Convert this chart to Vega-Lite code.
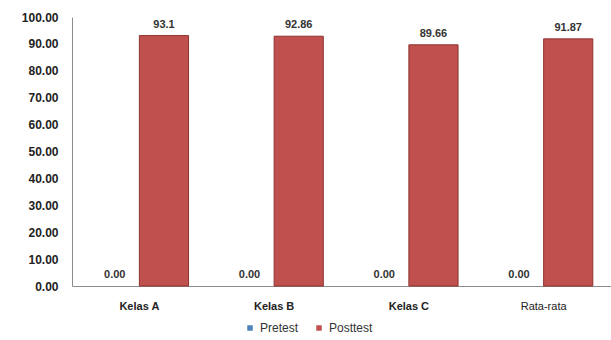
{
  "$schema": "https://vega.github.io/schema/vega-lite/v6.json",
  "autosize": {"type": "none"},
  "width": 539,
  "height": 269,
  "padding": {"left": 72, "top": 17, "right": 0, "bottom": 54},
  "background": "white",
  "config": {
    "view": {"stroke": null},
    "font": "Liberation Sans"
  },
  "data": {
    "values": [
      {"kelas": "Kelas A", "tes": "Pretest", "nilai": 0, "label": "0.00"},
      {"kelas": "Kelas A", "tes": "Posttest", "nilai": 93.1, "label": "93.1"},
      {"kelas": "Kelas B", "tes": "Pretest", "nilai": 0, "label": "0.00"},
      {"kelas": "Kelas B", "tes": "Posttest", "nilai": 92.86, "label": "92.86"},
      {"kelas": "Kelas C", "tes": "Pretest", "nilai": 0, "label": "0.00"},
      {"kelas": "Kelas C", "tes": "Posttest", "nilai": 89.66, "label": "89.66"},
      {"kelas": "Rata-rata", "tes": "Pretest", "nilai": 0, "label": "0.00"},
      {"kelas": "Rata-rata", "tes": "Posttest", "nilai": 91.87, "label": "91.87"}
    ]
  },
  "encoding": {
    "x": {
      "field": "kelas",
      "type": "nominal",
      "sort": null,
      "title": null,
      "scale": {"paddingInner": 0.27, "paddingOuter": 0.135},
      "axis": {
        "labelAngle": 0,
        "ticks": false,
        "labelPadding": 14,
        "labelFontSize": 11,
        "labelColor": "#222",
        "labelFontWeight": {"condition": {"test": "datum.value == 'Rata-rata'", "value": "normal"}, "value": "bold"},
        "domainColor": "#8c8c8c"
      }
    },
    "xOffset": {"field": "tes", "type": "nominal", "sort": ["Pretest", "Posttest"]},
    "y": {
      "field": "nilai",
      "type": "quantitative",
      "title": null,
      "scale": {"domain": [0, 100]},
      "axis": {
        "values": [0, 10, 20, 30, 40, 50, 60, 70, 80, 90, 100],
        "format": ".2f",
        "grid": false,
        "ticks": false,
        "labelPadding": 14,
        "labelFontSize": 12,
        "labelColor": "#222",
        "labelFontWeight": "bold",
        "domainColor": "#8c8c8c"
      }
    }
  },
  "layer": [
    {
      "mark": {"type": "bar", "stroke": "#8e3330"},
      "encoding": {
        "color": {
          "field": "tes",
          "type": "nominal",
          "sort": ["Pretest", "Posttest"],
          "scale": {"domain": ["Pretest", "Posttest"], "range": ["#4f81bd", "#c0504d"]},
          "legend": {
            "title": null,
            "orient": "none",
            "direction": "horizontal",
            "legendX": 172,
            "legendY": 305,
            "symbolType": "square",
            "symbolSize": 30,
            "symbolStrokeWidth": 0,
            "labelFontSize": 12,
            "labelColor": "#333",
            "columnPadding": 14
          }
        },
        "strokeWidth": {"condition": {"test": "datum.nilai == 0", "value": 0}, "value": 1}
      }
    },
    {
      "mark": {"type": "text", "baseline": "bottom", "dy": -6, "fontSize": 11, "fontWeight": "bold", "color": "#333"},
      "encoding": {"text": {"field": "label"}}
    }
  ]
}
